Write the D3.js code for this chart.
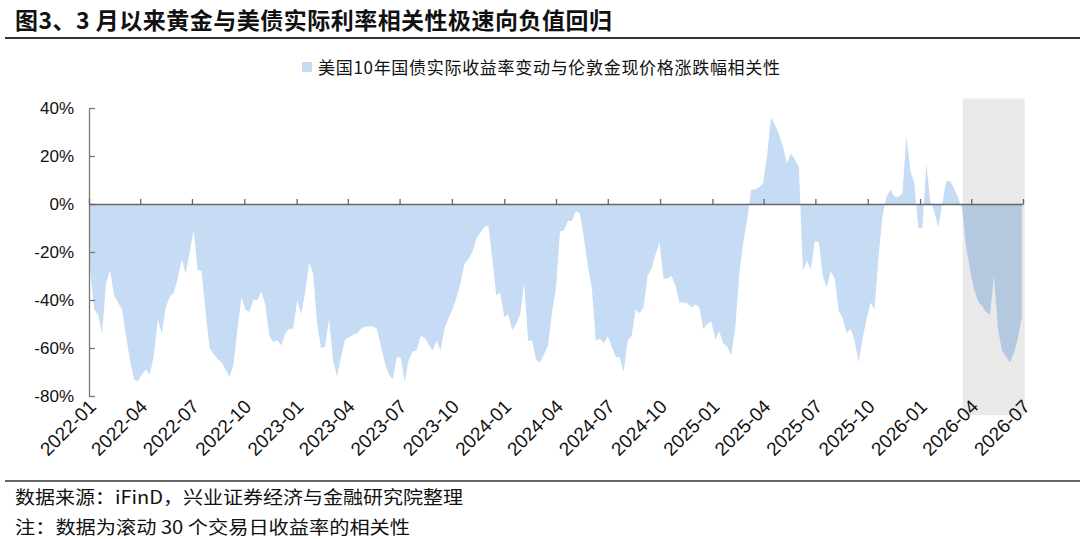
<!DOCTYPE html>
<html>
<head>
<meta charset="utf-8">
<script src="https://cdn.jsdelivr.net/npm/d3@7"></script>
<style>
    body { margin: 0; background: #fff; }
    svg text { font-family: "Liberation Sans", Arial, sans-serif; fill: #111; }
    svg text.cjk { font-family: "Noto Sans CJK SC", "Liberation Sans", sans-serif; }
</style>
</head>
<body>
<div class="container"></div>
<script>
const WIDTH = 1080;
const HEIGHT = 539;

const TITLE = "图3、3 月以来黄金与美债实际利率相关性极速向负值回归";
const LEGEND = "美国10年国债实际收益率变动与伦敦金现价格涨跌幅相关性";
const SOURCE = "数据来源：iFinD，兴业证券经济与金融研究院整理";
const NOTE = "注：数据为滚动 30 个交易日收益率的相关性";

// weekly readings of the rolling correlation (%), first week starts 2022-01-03
const startDate = "2022-01-03";
const corr = [
    -27, -44, -46, -54, -33, -27.5, -38, -41, -44, -55,
    -65, -73, -74, -71, -69, -71, -63, -48, -54, -43,
    -38.6, -37, -31, -23, -29, -20, -11, -27.5, -28, -45,
    -60, -62.5, -64.5, -66, -69, -72, -67, -52, -39, -44,
    -45, -40, -40, -36.5, -42, -55, -57.5, -56.7, -59, -54,
    -52, -52, -40, -46, -37, -24.6, -29, -50, -60, -59.5,
    -48, -65, -72, -64, -56.7, -55.5, -54.5, -54, -52, -51,
    -51, -51, -52, -59, -66, -71, -73, -64, -64, -74,
    -65, -61.5, -61, -55, -55.5, -58.5, -61, -57, -61, -52,
    -47.5, -44, -39, -33, -25, -23, -20, -14.5, -12, -9.6,
    -9, -23, -38, -37, -47, -46, -52.5, -50, -46, -33,
    -57, -57, -65, -66, -62.5, -59, -45, -35, -11.5, -11,
    -7, -7, -3, -4, -14, -26, -35, -57, -56, -58,
    -55, -59.5, -63.5, -64, -70, -57, -55, -44, -45.5, -43,
    -30, -27, -21, -16, -31, -31, -30, -34, -41, -41,
    -41.4, -43, -42, -43, -52, -50, -49, -56.5, -53, -58,
    -59.5, -63, -52, -30, -16, -7, 6, 6, 7, 8.5,
    20, 36, 33, 29, 24, 17, 21, 18.5, 15.5, -28,
    -23.5, -27.5, -15.5, -16, -30, -35, -28, -31, -44.5, -47.5,
    -54, -52, -57, -66, -56, -48, -41, -44, -22, -5,
    3, 6, 3, 3, 4.5, 28, 14, 8.8, -10, -10,
    17, 1, -3, -9.6, 0, 9.5, 9.6, 6.5, 2.5, -2,
    -18, -27.5, -35.5, -40.5, -42.5, -45, -46, -30, -52, -61,
    -63.5, -66, -62, -56, -47
];

const xTicks = [
    "2022-01", "2022-04", "2022-07", "2022-10",
    "2023-01", "2023-04", "2023-07", "2023-10",
    "2024-01", "2024-04", "2024-07", "2024-10",
    "2025-01", "2025-04", "2025-07", "2025-10",
    "2026-01", "2026-04", "2026-07"
];
const yTicks = [40, 20, 0, -20, -40, -60, -80];
const xDomain = ["2022-01-01", "2026-07-01"];
const yDomain = [-80, 40];

// shaded "since March" window
const highlightDates = ["2026-03-17", "2026-07-04"];
const highlightValues = [44, -88];

const parseDay = d3.timeParse("%Y-%m-%d");
const parseMonth = d3.timeParse("%Y-%m");

var translate = function(x, y) {
    return `translate(${x},${y})`;
};

var draw = function() {
    var svg = d3.select('.container').append('svg')
        .attr('width', WIDTH)
        .attr('height', HEIGHT);

    // title + rule
    svg.append('text')
        .classed('cjk', true)
        .attr('x', 15)
        .attr('y', 29)
        .attr('font-size', 23)
        .attr('font-weight', 'bold')
        .attr('textLength', 597)
        .attr('lengthAdjust', 'spacing')
        .text(TITLE);
    svg.append('line')
        .attr('x1', 5).attr('x2', WIDTH)
        .attr('y1', 38).attr('y2', 38)
        .attr('stroke', '#333').attr('stroke-width', 2);

    // legend
    svg.append('rect')
        .attr('x', 302).attr('y', 62)
        .attr('width', 10).attr('height', 10)
        .attr('fill', '#c5dcf4');
    svg.append('text')
        .classed('cjk', true)
        .attr('x', 318)
        .attr('y', 73.5)
        .attr('font-size', 17)
        .attr('textLength', 462)
        .attr('lengthAdjust', 'spacing')
        .text(LEGEND);

    let start = parseDay(startDate);
    let data = corr.map((v, i) => [d3.timeWeek.offset(start, i), v]);

    let xScale = d3.scaleTime()
        .domain(xDomain.map(parseDay))
        .range([89, 1023]);
    let yScale = d3.scaleLinear()
        .domain(yDomain)
        .range([396, 108]);

    var area = d3.area()
        .x(([d, v]) => xScale(d))
        .y0(yScale(0))
        .y1(([d, v]) => yScale(v));

    svg.append('path')
        .attr('d', area(data))
        .attr('fill', '#c5dcf4');

    // grey window drawn over the area so the fill darkens inside it
    let hx0 = xScale(parseDay(highlightDates[0]));
    let hx1 = xScale(parseDay(highlightDates[1]));
    svg.append('rect')
        .attr('x', hx0)
        .attr('y', yScale(highlightValues[0]))
        .attr('width', hx1 - hx0)
        .attr('height', yScale(highlightValues[1]) - yScale(highlightValues[0]))
        .attr('fill', '#000')
        .attr('fill-opacity', 0.087);

    // y axis
    let yAxis = d3.axisLeft(yScale)
        .tickValues(yTicks)
        .tickSize(-6)
        .tickSizeOuter(0)
        .tickPadding(15)
        .tickFormat((d) => d + '%');
    let gy = svg.append('g')
        .attr('transform', translate(89, 0))
        .call(yAxis);
    gy.selectAll('text').attr('font-size', 17).attr('fill', '#111');
    gy.selectAll('line, path').attr('stroke', '#777').attr('stroke-width', 1.3);

    // zero line with quarterly ticks
    let tickDates = xTicks.map(parseMonth);
    let xAxis = d3.axisTop(xScale)
        .tickValues(tickDates)
        .tickSize(5)
        .tickSizeOuter(0)
        .tickFormat('');
    let gx = svg.append('g')
        .attr('transform', translate(0, yScale(0)))
        .call(xAxis);
    gx.selectAll('line, path').attr('stroke', '#666').attr('stroke-width', 1.3);

    // rotated date labels under the plot
    let xLabels = d3.axisBottom(xScale)
        .tickValues(tickDates)
        .tickSize(0)
        .tickFormat(d3.timeFormat('%Y-%m'));
    let gl = svg.append('g')
        .attr('transform', translate(0, 403))
        .call(xLabels);
    gl.select('.domain').remove();
    gl.selectAll('text')
        .attr('font-size', 19)
        .attr('fill', '#111')
        .attr('y', 0)
        .attr('dy', '0.35em')
        .attr('text-anchor', 'end')
        .attr('transform', 'translate(3,0) rotate(-45)');

    // footer
    svg.append('line')
        .attr('x1', 5).attr('x2', WIDTH)
        .attr('y1', 481).attr('y2', 481)
        .attr('stroke', '#333').attr('stroke-width', 1.5);
    svg.append('text')
        .classed('cjk', true)
        .attr('x', 15).attr('y', 504)
        .attr('font-size', 18)
        .attr('textLength', 448)
        .attr('lengthAdjust', 'spacingAndGlyphs')
        .text(SOURCE);
    svg.append('text')
        .classed('cjk', true)
        .attr('x', 15).attr('y', 534)
        .attr('font-size', 18)
        .attr('textLength', 395)
        .attr('lengthAdjust', 'spacingAndGlyphs')
        .text(NOTE);
};

window.onload = draw;
</script>
</body>
</html>
